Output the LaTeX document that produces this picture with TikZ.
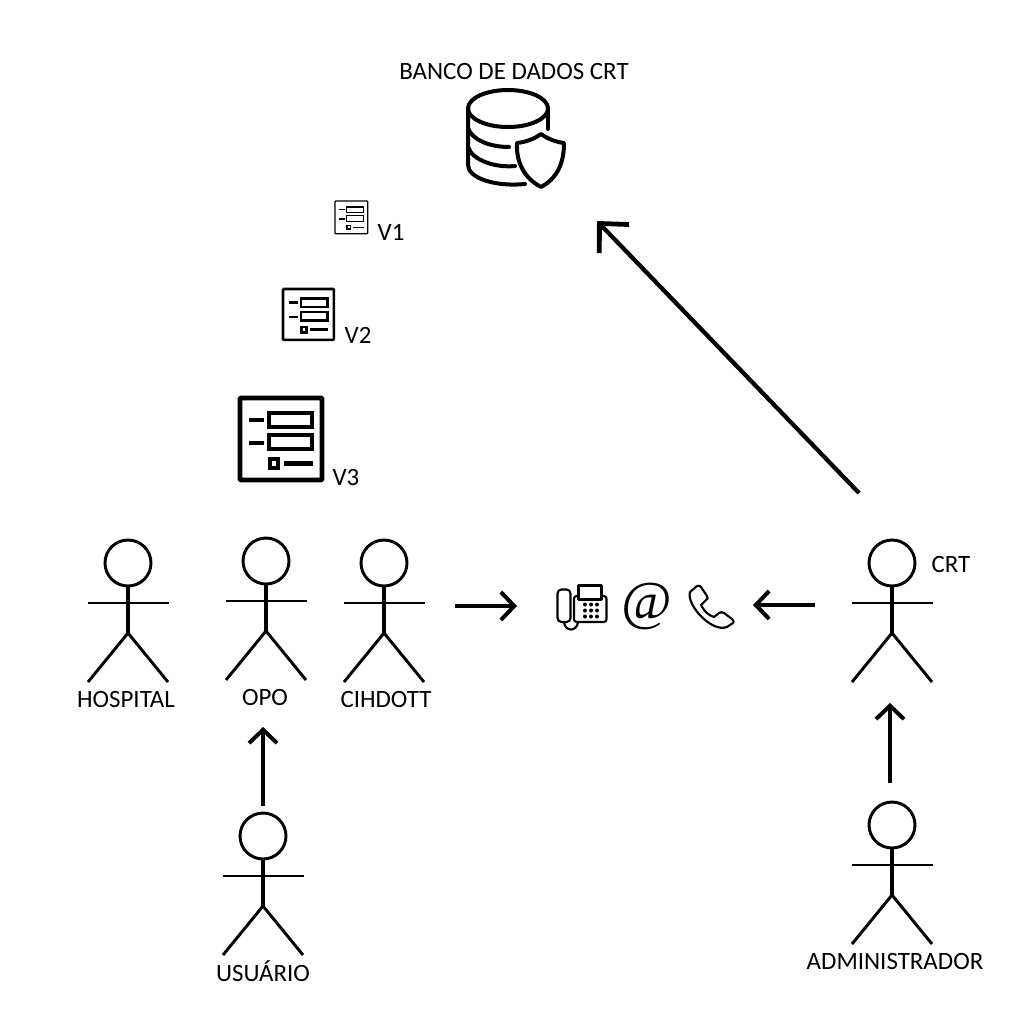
\documentclass[tikz,border=0pt]{standalone}
\usepackage{fontspec}
\setmainfont{Carlito}
\newfontfamily\atfont{Liberation Serif}
\usetikzlibrary{arrows.meta}
\usetikzlibrary{positioning,calc}

\tikzset{
   every node/.style={font=\fontsize{18.7pt}{22pt}\selectfont, inner sep=0pt},
   linkarrow/.style={line width=3pt, -{Straight Barb[length=10pt,width=21pt,line width=3pt]}},
   thickarrow/.style={line width=3.2pt, -{Straight Barb[length=16pt,width=31pt,line width=3.6pt]}},
   headnode/.style={circle, draw, line width=2.2pt, minimum size=34.5pt},
   actor/.pic={
      \node[headnode] (-head) at (0,0) {};
      \draw[line width=1.8pt] (-40,40) -- (41,40);
      \draw[line width=2.6pt] (0,23) -- (0,70);
      \draw[line width=2.2pt] (-40,119) -- (0,70) -- (40,119);
   },
   formicon/.pic={
      \draw[rounded corners=0.6] (0,0) rectangle (82,82);
      \draw (9,22) -- (24,22);
      \draw (29,15) rectangle (72,29);
      \draw (9,45) -- (24,45);
      \draw (29,37) rectangle (72,51);
      \draw (30,61) rectangle (38,70);
      \draw (44,65.5) -- (73,65.5);
   },
}

\begin{document}
\begin{tikzpicture}[x=0.75pt, y=-0.75pt]
   \useasboundingbox (0,0) rectangle (1024,1021);

   % actors
   \pic (hospital) at (128,563) {actor};
   \pic (opo) at (266,561) {actor};
   \pic (cihdott) at (384,563) {actor};
   \pic (crt) at (892,563) {actor};
   \pic (usuario) at (263,836) {actor};
   \pic (admin) at (892,825) {actor};

   \node (hospitallabel) at (126,699) {HOSPITAL};
   \node (opolabel) at (265,697) {OPO};
   \node (cihdottlabel) at (386,699) {CIHDOTT};
   \node (crtlabel) at (951,564) {CRT};
   \node (usuariolabel) at (263,971.5) {USUÁRIO};
   \node (adminlabel) at (895,961) {ADMINISTRADOR};

   % database
   \node (dblabel) at (514,71) {BANCO DE DADOS CRT};
   \begin{scope}[line width=3pt, line cap=round]
      \draw (508,108.5) ellipse (40 and 18.5);
      \draw (468,108) -- (468,165) .. controls (468,178) and (495,187) .. (525,184);
      \draw (548,108) -- (548,129);
      \draw (468,128) .. controls (472,140) and (490,147) .. (509,147);
      \draw (468,147) .. controls (472,160) and (495,168) .. (515,166);
      \draw[line join=round] (541,134) .. controls (534,139) and (526,142) .. (517,143)
         .. controls (516,162) and (524,178) .. (541,187)
         .. controls (558,178) and (564,162) .. (564,143)
         .. controls (556,142) and (548,139) .. (541,134) -- cycle;
   \end{scope}

   % forms
   \pic[line width=0.9pt, scale=0.40] at (335,201) {formicon};
   \pic[line width=1.9pt, scale=0.62] at (283,289) {formicon};
   \pic[line width=3.4pt] at (240,398) {formicon};
   \node (vone) at (391,232) {V1};
   \node (vtwo) at (358,335) {V2};
   \node (vthree) at (346,477) {V3};

   % fax
   \begin{scope}[line width=1.6pt, line join=round]
      \draw[rounded corners=3] (557.5,589.5) rectangle (570.5,622);
      \draw[rounded corners=2] (574,596) rectangle (606.5,622);
      \draw[fill=white] (578.5,585.5) rectangle (601.5,599.5);
      \draw (564,622) .. controls (565,632) and (577,632) .. (578,622);
      \foreach \dotx in {585,591,597}
         \foreach \doty in {604.5,610.5,616.5}
            \fill (\dotx,\doty) circle (2);
   \end{scope}

   % at sign
   \node[font=\atfont\itshape\fontsize{41pt}{41pt}\selectfont] (atsign) at (647,606) {@};

   % phone
   \draw[line width=1.6pt, line join=round]
      (690,592) -- (697,586) .. controls (699,585) and (700,586) .. (701,587) -- (707,596)
      .. controls (708,598) and (708,599) .. (706,600) -- (701,605)
      .. controls (704,611) and (708,615) .. (714,617) -- (719,613)
      .. controls (721,612) and (722,612) .. (724,613) -- (732,619)
      .. controls (734,621) and (734,622) .. (733,623) -- (727,627)
      .. controls (712,633) and (686,605) .. (690,592) -- cycle;

   % connectors
   \coordinate (faxin) at (517,606);
   \coordinate (cihdottout) at (455,606);
   \coordinate (phonein) at (753,605);
   \coordinate (crtout) at (815,605);
   \coordinate (crtup) at (859,493);
   \coordinate (dbin) at (597,221);
   \coordinate (adminout) at (890,783);
   \coordinate (crtin) at (890,703);
   \coordinate (usuarioout) at (263,806);
   \coordinate (opoin) at (263,727);

   \draw[linkarrow] (cihdottout) -- (faxin);
   \draw[linkarrow] (crtout) -- (phonein);
   \draw[linkarrow] (adminout) -- (crtin);
   \draw[linkarrow] (usuarioout) -- (opoin);
   \draw[thickarrow] (crtup) -- (dbin);
\end{tikzpicture}
\end{document}
